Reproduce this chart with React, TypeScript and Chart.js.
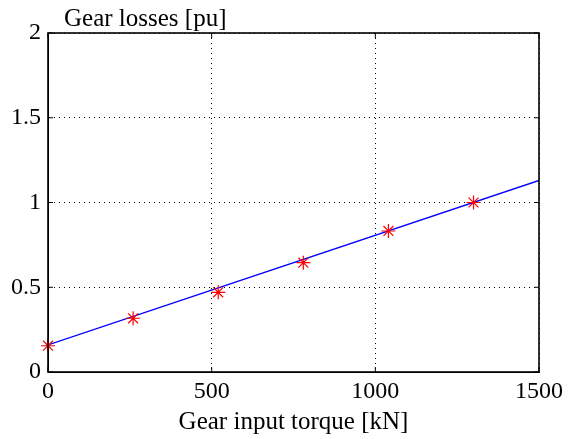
import React, { useEffect, useRef } from "react";
import { Chart, registerables } from "chart.js";

Chart.register(...registerables);

const torqueSamples = [0, 260, 520, 780, 1040, 1300];
const lossSamples = [0.155, 0.317, 0.47, 0.645, 0.832, 1.0];
const fitTorque = [0, 1500];
const fitLoss = [0.16, 1.13];
const xTicks = [0, 500, 1000, 1500];
const yTicks = [0, 0.5, 1, 1.5, 2];
const yTitle = "Gear losses [pu]";
const xTitle = "Gear input torque [kN]";

const FONT = "'Liberation Serif', 'Times New Roman', serif";

const framePlugin = {
  id: "frame",
  afterDatasetsDraw(chart: any) {
    const { ctx, chartArea: a, scales } = chart;
    ctx.save();
    ctx.strokeStyle = "#000";
    ctx.lineWidth = 1.6;
    ctx.strokeRect(a.left, a.top, a.right - a.left, a.bottom - a.top);
    ctx.lineWidth = 1;
    const tl = 5;
    ctx.beginPath();
    xTicks.forEach((v) => {
      const px = scales.x.getPixelForValue(v);
      ctx.moveTo(px, a.bottom);
      ctx.lineTo(px, a.bottom - tl);
      ctx.moveTo(px, a.top);
      ctx.lineTo(px, a.top + tl);
    });
    yTicks.forEach((v) => {
      const py = scales.y.getPixelForValue(v);
      ctx.moveTo(a.left, py);
      ctx.lineTo(a.left + tl, py);
      ctx.moveTo(a.right, py);
      ctx.lineTo(a.right - tl, py);
    });
    ctx.stroke();
    ctx.fillStyle = "#000";
    ctx.font = `25px ${FONT}`;
    ctx.textAlign = "left";
    ctx.textBaseline = "alphabetic";
    ctx.fillText(yTitle, a.left + 16, a.top - 7);
    ctx.restore();
  },
};

export default function App() {
  const ref = useRef<HTMLCanvasElement | null>(null);
  useEffect(() => {
    if (!ref.current) return;
    const chart = new Chart(ref.current, {
      type: "scatter",
      data: {
        datasets: [
          {
            label: "fit",
            data: fitTorque.map((x, i) => ({ x, y: fitLoss[i] })),
            showLine: true,
            borderColor: "#0000ff",
            borderWidth: 1.3,
            pointRadius: 0,
            order: 2,
          },
          {
            label: "measured",
            data: torqueSamples.map((x, i) => ({ x, y: lossSamples[i] })),
            showLine: false,
            clip: false,
            pointStyle: "star",
            pointRadius: 7,
            borderColor: "#ff0000",
            backgroundColor: "#ff0000",
            pointBorderWidth: 1.2,
            order: 1,
          },
        ],
      },
      options: {
        animation: false,
        responsive: false,
        maintainAspectRatio: false,
        layout: { padding: { left: 0, right: 27, top: 33, bottom: 0 } },
        plugins: { legend: { display: false }, tooltip: { enabled: false }, title: { display: false } },
        scales: {
          x: {
            type: "linear",
            min: 0,
            max: 1500,
            afterBuildTicks: (s: any) => {
              s.ticks = xTicks.map((v) => ({ value: v }));
            },
            afterFit: (s: any) => {
              s.height = 67;
            },
            ticks: {
              color: "#000",
              font: { family: FONT, size: 24 },
              padding: 5,
              maxRotation: 0,
              callback: (v: any) => String(v),
            },
            grid: {
              color: "#000",
              lineWidth: 1,
              drawTicks: false,
            },
            border: { display: true, color: "#000", width: 1, dash: [1, 4] },
            title: {
              display: true,
              text: xTitle,
              color: "#000",
              font: { family: FONT, size: 25 },
              padding: { top: 0, bottom: 2 },
            },
          },
          y: {
            type: "linear",
            min: 0,
            max: 2,
            afterBuildTicks: (s: any) => {
              s.ticks = yTicks.map((v) => ({ value: v }));
            },
            afterFit: (s: any) => {
              s.width = 48;
            },
            ticks: {
              color: "#000",
              font: { family: FONT, size: 24 },
              padding: 7,
              callback: (v: any) => String(v),
            },
            grid: {
              color: "#000",
              lineWidth: 1,
              drawTicks: false,
            },
            border: { display: true, color: "#000", width: 1, dash: [1, 4] },
          },
        },
      },
      plugins: [framePlugin],
    } as any);
    return () => chart.destroy();
  }, []);
  return (
    <div style={{ position: "fixed", left: 0, top: 0, width: 568, height: 439, background: "#fff" }}>
      <canvas ref={ref} width={568} height={439} style={{ width: 568, height: 439 }} />
    </div>
  );
}
